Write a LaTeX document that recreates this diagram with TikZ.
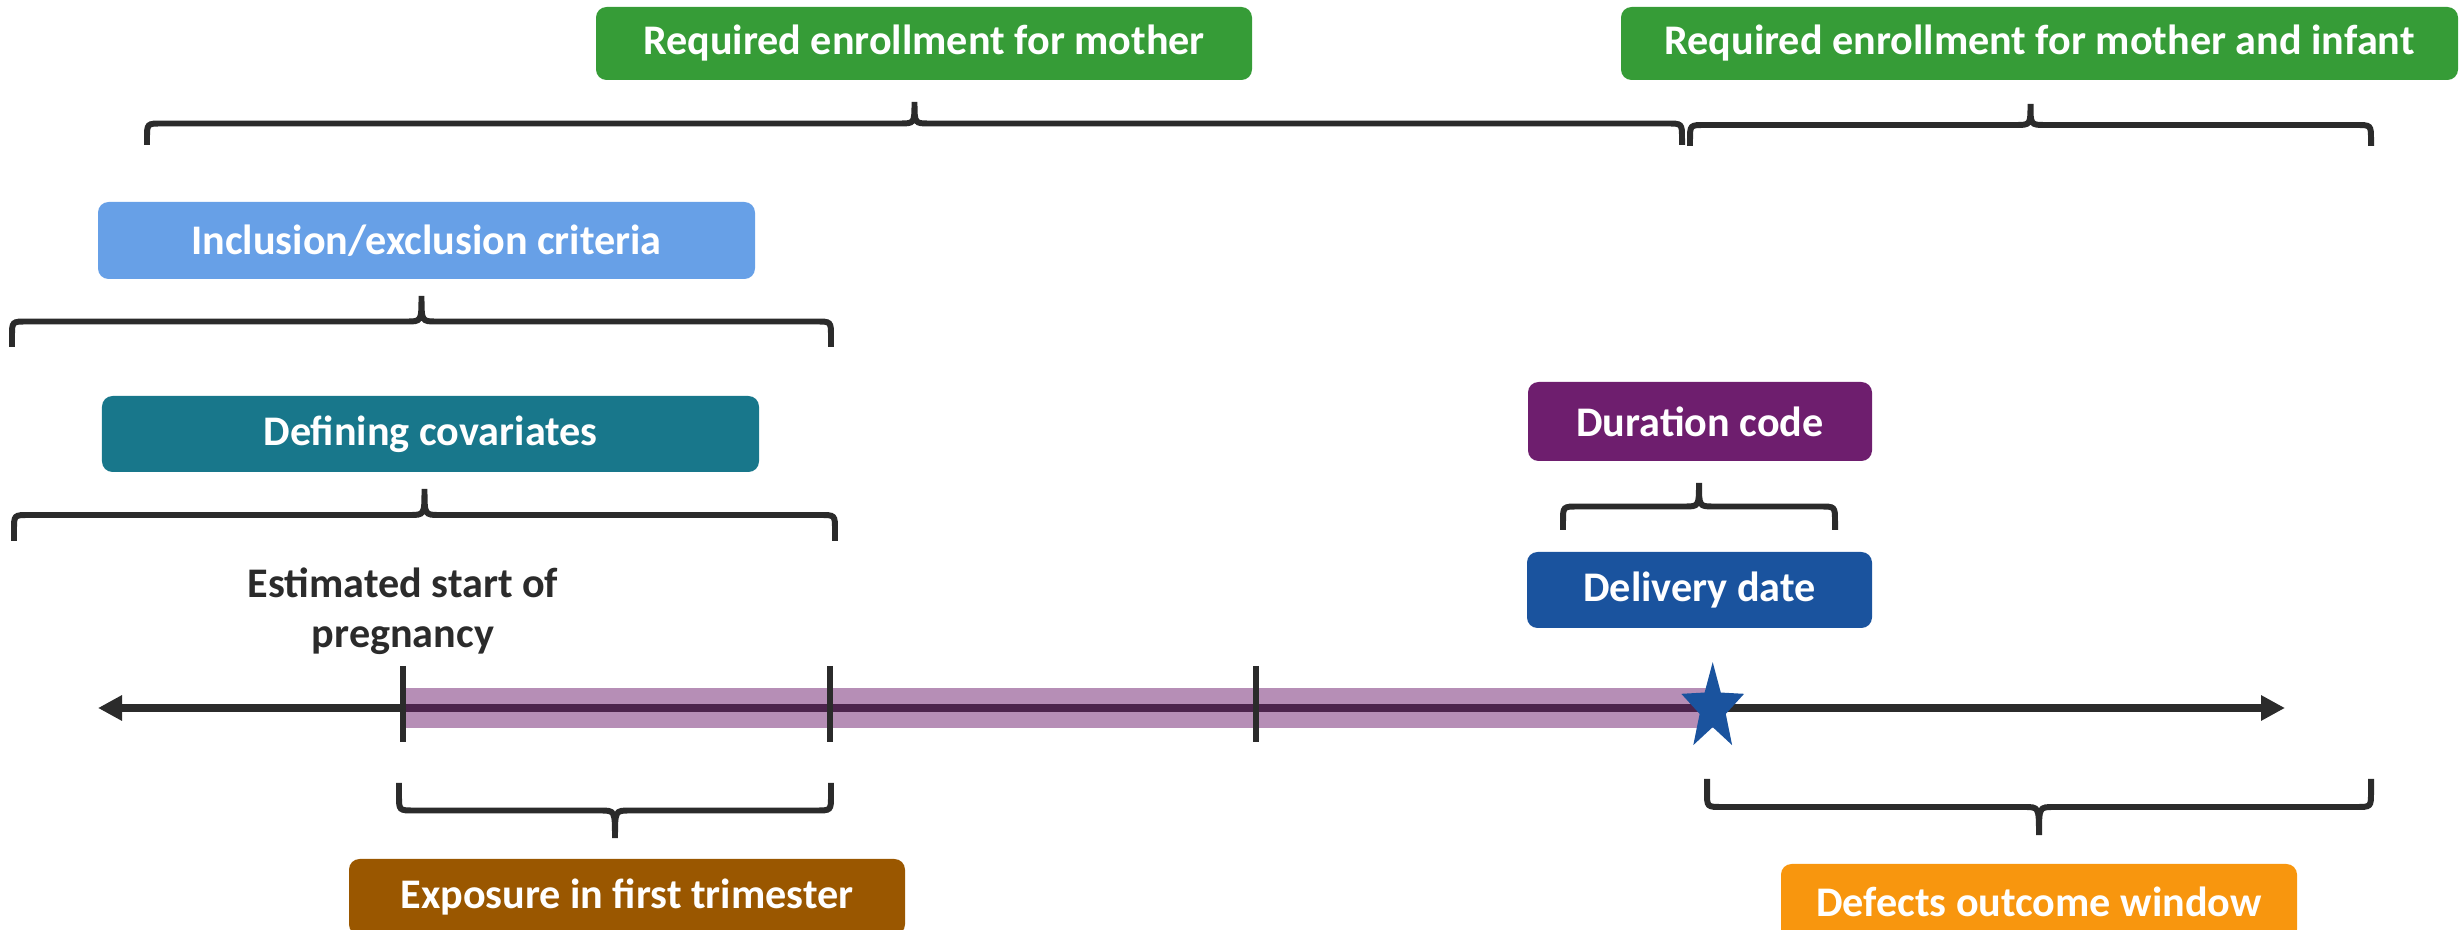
\documentclass[tikz,border=0pt]{standalone}
\usepackage{fontspec}
\setmainfont{Carlito}
\usetikzlibrary{arrows.meta,positioning,calc,shapes.geometric}
\definecolor{enrollgreen}{HTML}{369C37}
\definecolor{inclblue}{HTML}{67A0E7}
\definecolor{covteal}{HTML}{18778B}
\definecolor{durpurple}{HTML}{6E1E6E}
\definecolor{delivblue}{HTML}{1A539E}
\definecolor{expobrown}{HTML}{9A5700}
\definecolor{defectorange}{HTML}{F8960E}
\definecolor{axisgray}{HTML}{2B2B2B}
\tikzset{
  box/.style={rounded corners=3pt, align=center, text=white, font=\fontsize{12pt}{14.2pt}\selectfont\bfseries, minimum height=7.6mm, inner sep=0pt},
  enroll/.style={box, fill=enrollgreen, minimum height=7.3mm},
  incl/.style={box, fill=inclblue},
  covar/.style={box, fill=covteal},
  durbox/.style={box, fill=durpurple, minimum height=7.9mm},
  delivbox/.style={box, fill=delivblue},
  expobox/.style={box, fill=expobrown},
  defectbox/.style={box, fill=defectorange},
  esttext/.style={align=center, text=axisgray, font=\fontsize{12pt}{14.2pt}\selectfont\bfseries, inner sep=0pt},
  axisline/.style={draw=axisgray, line width=2.3pt, {Triangle[length=2.4mm,width=2.4mm]}-{Triangle[length=2.4mm,width=2.4mm]}},
  band/.style={draw=durpurple, draw opacity=0.5, line width=4mm},
  tick/.style={draw=axisgray, line width=1.8pt},
  deliverystar/.style={star, star points=5, star point ratio=2.4, minimum size=6.6mm, inner sep=0pt, fill=delivblue, transform shape},
  % curly brace of height #1 (negative = pointing down)
  brc/.style={draw=axisgray, line width=1.7pt, to path={
    let \p1=(\tikztostart), \p2=(\tikztotarget), \n1={#1/2}, \n2={#1},
        \n3={(\x1+\x2)/2}, \n4={#1/2-sign(#1)*1.5mm} in
    (\p1) -- (\x1,{\y1+\n4}) .. controls (\x1,{\y1+\n1}) .. ({\x1+1.5mm},{\y1+\n1})
    -- ({\n3-1.5mm},{\y1+\n1}) .. controls (\n3,{\y1+\n1}) .. (\n3,{\y1+\n2})
    .. controls (\n3,{\y1+\n1}) .. ({\n3+1.5mm},{\y1+\n1})
    -- ({\x2-1.5mm},{\y1+\n1}) .. controls (\x2,{\y1+\n1}) .. (\x2,{\y1+\n4}) -- (\p2)}}}

\begin{document}
\begin{tikzpicture}
  \useasboundingbox (0,0) rectangle (24.61,-9.30);
  % enrollment
  \node[enroll, minimum width=6.56cm] (mom) at (9.24,-0.435) {Required enrollment for mother};
  \node[enroll, minimum width=8.37cm] (mominf) at (20.395,-0.435) {Required enrollment for mother and infant};
  \draw[brc=4.3mm] (1.47,-1.45) to (16.82,-1.45);
  \draw[brc=4.2mm] (16.90,-1.46) to (23.71,-1.46);
  % baseline windows
  \node[incl, minimum width=6.57cm, minimum height=7.7mm] (crit) at (4.265,-2.405) {Inclusion/exclusion criteria};
  \draw[brc=5.1mm] (0.12,-3.47) to (8.31,-3.47);
  \node[covar, minimum width=6.57cm] (cov) at (4.305,-4.34) {Defining covariates};
  \draw[brc=5.2mm] (0.14,-5.41) to (8.35,-5.41);
  % delivery
  \node[durbox, minimum width=3.44cm] (dur) at (17.00,-4.215) {Duration code};
  \draw[brc=4.7mm] (15.63,-5.30) to (18.35,-5.30);
  \node[delivbox, minimum width=3.45cm] (deliv) at (16.995,-5.90) {Delivery date};
  \node[esttext] (start) at (4.03,-6.11) {Estimated start of\\pregnancy};
  % time line
  \coordinate (axl) at (0.98,-7.08);
  \coordinate (axr) at (22.85,-7.08);
  \coordinate (t1) at (4.03,-7.08);
  \coordinate (t2) at (8.30,-7.08);
  \coordinate (t3) at (12.56,-7.08);
  \coordinate (dd) at (17.127,-7.08);
  \draw[axisline] (axl) -- (axr);
  \draw[band] (t1) -- (dd);
  \foreach \t in {t1,t2,t3}
    \draw[tick] ([yshift=4.2mm]\t) -- ([yshift=-3.4mm]\t);
  \begin{scope}[shift={(dd)}, yscale=1.39]
    \node[deliverystar] (star) at (0,0) {};
  \end{scope}
  % outcome windows
  \draw[brc=-5.5mm] (3.99,-7.83) to (8.31,-7.83);
  \node[expobox, minimum width=5.56cm] (expo) at (6.27,-8.97) {Exposure in first trimester};
  \draw[brc=-5.6mm] (17.07,-7.79) to (23.71,-7.79);
  \node[defectbox, minimum width=5.16cm] (defect) at (20.39,-9.02) {Defects outcome window};
\end{tikzpicture}
\end{document}
